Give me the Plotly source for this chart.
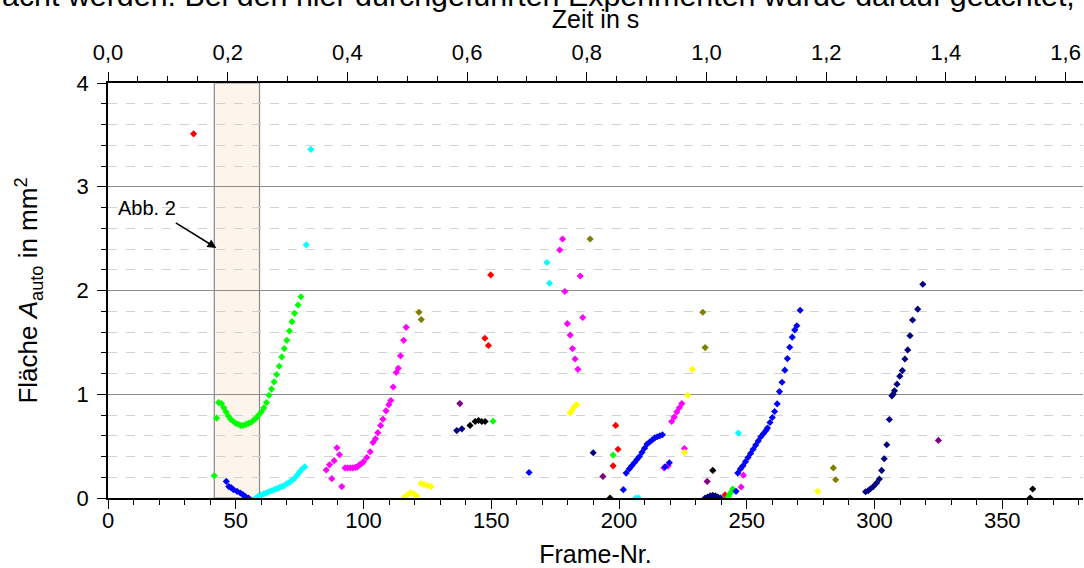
import plotly.graph_objects as go

# ---------------- data ----------------
red_x = [33.5, 147.5, 148.9, 149.8, 197.7, 198.7, 199.6, 241.5]
red_y = [3.51, 1.54, 1.47, 2.15, 0.31, 0.70, 0.47, 0.03]

cyan_x = [58, 59, 60, 61, 62, 63, 64, 65, 66, 67, 68, 69, 70, 71, 72, 73, 74, 75, 76, 77,
          77.6, 79.4, 171.8, 172.8, 206.6, 207.6, 246.7]
cyan_y = [0.0, 0.02, 0.03, 0.04, 0.05, 0.06, 0.07, 0.08, 0.09, 0.10, 0.11, 0.12, 0.14, 0.15,
          0.17, 0.19, 0.22, 0.25, 0.28, 0.30,
          2.44, 3.36, 2.27, 2.07, 0.0, 0.0, 0.625]

green_x = [41.6, 42.5, 43.3, 44.4, 45.3, 46.2, 47.1, 48.0, 49.0, 50.0, 51.0, 52.0, 53.0, 54.0,
           55.0, 56.0, 57.0, 58.0, 59.0, 60.0, 61.0, 62.0, 63.0, 64.0, 65.0, 66.0, 67.0, 68.0,
           69.0, 70.0, 71.0, 72.0, 73.0, 74.4, 75.5,
           150.7, 197.7, 242.8, 243.7, 244.5]
green_y = [0.215, 0.77, 0.92, 0.91, 0.87, 0.83, 0.79, 0.76, 0.74, 0.72, 0.71, 0.70, 0.70, 0.71,
           0.72, 0.73, 0.75, 0.77, 0.80, 0.83, 0.87, 0.92, 0.99, 1.05, 1.12, 1.19, 1.27, 1.36,
           1.44, 1.52, 1.61, 1.70, 1.78, 1.86, 1.94,
           0.74, 0.414, 0.015, 0.05, 0.087]

blue_x = [46.3, 47.3, 48.2, 49.1, 50.5, 51.8, 52.8, 53.7, 55.0,
          164.8, 201.7,
          202.8, 204, 205, 206, 207, 208, 209, 210, 211, 212, 213, 214, 215, 216, 217,
          218.0, 219.7, 245.8,
          246.5, 247.5, 248.5, 249.5, 250.5, 251.5, 252.5, 253.5, 254.5, 255.5, 256.5, 257.5,
          258.1, 259.1, 260.0, 260.9, 261.9, 262.8, 263.8, 264.9, 265.9, 266.8, 267.8, 268.8,
          269.6, 270.9]
blue_y = [0.16, 0.11, 0.10, 0.08, 0.064, 0.048, 0.032, 0.016, 0.0,
          0.246, 0.08,
          0.24, 0.28, 0.31, 0.34, 0.37, 0.40, 0.44, 0.48, 0.52, 0.54, 0.56, 0.58, 0.59, 0.60, 0.61,
          0.30, 0.34, 0.064,
          0.24, 0.28, 0.31, 0.35, 0.39, 0.43, 0.47, 0.51, 0.55, 0.59, 0.62, 0.65,
          0.674, 0.728, 0.776, 0.834, 0.908, 1.026, 1.116, 1.232, 1.344, 1.453, 1.55, 1.62,
          1.66, 1.81]

navy_x = [136.5, 138.5, 189.9,
          233.7, 234.7, 235.7, 236.7, 237.7, 238.7, 239.7,
          296.5, 297.5, 298.3, 299.5, 300.8, 301.9, 302.8, 303.8, 304.8, 305.8,
          306.8, 307.3, 307.8, 308.8, 309.9, 310.9, 311.9, 313.0, 313.9, 314.9, 316.9, 318.9]
navy_y = [0.65, 0.667, 0.436,
          0.0, 0.01, 0.02, 0.025, 0.02, 0.01, 0.0,
          0.06, 0.07, 0.087, 0.11, 0.144, 0.183, 0.266, 0.378, 0.513, 0.757,
          0.985, 1.0, 1.033, 1.097, 1.174, 1.228, 1.34, 1.427, 1.565, 1.716, 1.82, 2.06]

magenta_x = [85.4, 86.7, 87.6, 88.5, 89.6, 90.6, 91.5,
             92.8, 93.8, 94.8, 95.8, 96.8, 97.6, 98.4, 99.2, 100.0, 101.3, 102.6, 103.7,
             104.7, 105.6, 106.7, 107.6, 108.8, 109.9, 110.7, 111.6, 112.8, 113.6, 114.5,
             115.7, 116.7,
             176.8, 177.9, 178.8, 179.8, 180.9, 181.8, 182.8, 183.9, 184.8, 185.8,
             217.6, 219.2, 220.6, 221.6, 222.6, 223.6, 224.6, 225.6, 247.8, 248.7]
magenta_y = [0.27, 0.32, 0.186, 0.36, 0.484, 0.417, 0.11,
             0.29, 0.29, 0.29, 0.29, 0.295, 0.30, 0.32, 0.33, 0.35, 0.39, 0.446, 0.535,
             0.57, 0.63, 0.70, 0.76, 0.84, 0.90, 0.94, 1.07, 1.21, 1.25, 1.37,
             1.52, 1.645,
             2.39, 2.496, 1.99, 1.68, 1.57, 1.44, 1.34, 1.24, 2.14, 1.74,
             0.29, 0.31, 0.737, 0.78, 0.83, 0.87, 0.91, 0.477, 0.106, 0.22]

yellow_x = [116.0, 116.7, 118.3, 119.6, 120.9, 122.5, 123.7, 125.0, 126.4,
            180.9, 181.7, 182.5, 183.5, 225.6, 226.9, 228.7, 277.8]
yellow_y = [0.01, 0.02, 0.05, 0.04, 0.02, 0.14, 0.13, 0.12, 0.11,
            0.82, 0.85, 0.88, 0.90, 0.44, 0.99, 1.24, 0.064]

black_x = [141.7, 143.7, 145.0, 146.3, 147.6, 196.5, 236.7, 360.9, 361.9]
black_y = [0.70, 0.737, 0.747, 0.737, 0.737, 0.0, 0.266, 0.0, 0.087]

olive_x = [121.7, 122.6, 188.7, 232.8, 233.7, 283.9, 284.8]
olive_y = [1.79, 1.72, 2.496, 1.79, 1.45, 0.29, 0.176]

purple_x = [137.7, 193.7, 234.5, 325.0]
purple_y = [0.91, 0.208, 0.16, 0.555]

series = [
    ("red", red_x, red_y, "#FF0000"),
    ("cyan", cyan_x, cyan_y, "#00FFFF"),
    ("green", green_x, green_y, "#00FF00"),
    ("magenta", magenta_x, magenta_y, "#FF00FF"),
    ("yellow", yellow_x, yellow_y, "#FFFF00"),
    ("olive", olive_x, olive_y, "#808000"),
    ("purple", purple_x, purple_y, "#800080"),
    ("black", black_x, black_y, "#000000"),
    ("navy", navy_x, navy_y, "#000080"),
    ("blue", blue_x, blue_y, "#0000FF"),
]

frame_range = [0, 381.6]
fps = 234.25
time_range = [0, frame_range[1] / fps]
region_frames = [41.6, 59.3]

FONT = "Arial, 'Liberation Sans', sans-serif"

fig = go.Figure()
for name, xs, ys, col in series:
    fig.add_trace(go.Scatter(
        x=xs, y=ys, mode="markers", name=name, showlegend=False,
        marker=dict(symbol="diamond", size=5.5, color=col, line=dict(width=0)),
    ))

# helper trace so the top time axis is drawn
fig.add_trace(go.Scatter(x=time_range, y=[None, None], xaxis="x2", mode="markers",
                         showlegend=False, hoverinfo="skip"))

fig.add_shape(type="rect", xref="x", yref="y", x0=region_frames[0], x1=region_frames[1],
              y0=0, y1=4, fillcolor="#FDF4EC", line=dict(color="#8A8A8A", width=1.2),
              layer="below")

fig.update_layout(
    width=1084, height=568,
    margin=dict(l=108, r=1, t=83, b=70),
    paper_bgcolor="white", plot_bgcolor="white",
    separators=",.",
    font=dict(family=FONT, size=22, color="black"),
    xaxis=dict(
        range=frame_range, tickmode="linear", tick0=0, dtick=50,
        showgrid=False, zeroline=False, automargin=False,
        showline=True, linecolor="black", linewidth=1.5,
        ticks="outside", ticklen=9, tickwidth=1.3, tickcolor="black",
        minor=dict(dtick=10, ticks="outside", ticklen=5, tickwidth=1.1, tickcolor="black", showgrid=False),
        tickfont=dict(size=22), ticklabelstandoff=-7,
        title=dict(text="Frame-Nr.", font=dict(size=25), standoff=14),
    ),
    xaxis2=dict(
        range=time_range, overlaying="x", side="top", anchor="y",
        tickmode="linear", tick0=0, dtick=0.2, tickformat=".1f",
        showgrid=False, zeroline=False, automargin=False,
        showline=True, linecolor="black", linewidth=1.5,
        ticks="outside", ticklen=9, tickwidth=1.3, tickcolor="black",
        minor=dict(dtick=0.05, ticks="outside", ticklen=5, tickwidth=1.1, tickcolor="black", showgrid=False),
        tickfont=dict(size=22), ticklabelstandoff=3,
        title=dict(text="Zeit in s", font=dict(size=25), standoff=5),
    ),
    yaxis=dict(
        range=[0, 4], tickmode="linear", tick0=0, dtick=1,
        showgrid=True, gridcolor="#8C8C8C", gridwidth=1.4, zeroline=False, automargin=False,
        showline=True, linecolor="black", linewidth=1.5,
        ticks="outside", ticklen=9, tickwidth=1.3, tickcolor="black",
        minor=dict(dtick=0.2, ticks="outside", ticklen=5, tickwidth=1.1, tickcolor="black",
                   showgrid=True, gridcolor="#D2D2D2", griddash="dash", gridwidth=1),
        tickfont=dict(size=22), ticklabelstandoff=4,
        title=dict(text="Fläche <i>A</i><sub>auto</sub> in mm<sup>2</sup>", font=dict(size=26), standoff=31),
    ),
    annotations=[
        dict(text="Abb. 2", x=15.2, y=2.80, xref="x", yref="y", showarrow=False,
             font=dict(size=20, color="black")),
        dict(text="", x=42.4, y=2.41, xref="x", yref="y", showarrow=True,
             ax=-42, ay=-26, arrowhead=2, arrowsize=1.1, arrowwidth=1.6,
             arrowcolor="black", standoff=0),
        dict(text="acht werden. Bei den hier durchgeführten Experimenten wurde darauf geachtet,",
             x=-108 / 975, y=1.2117, xref="paper", yref="paper", xanchor="left", yanchor="middle",
             showarrow=False, font=dict(size=30.4, color="black")),
    ],
)

fig.write_html("out.html", config={"displayModeBar": False},
               post_script="document.body.style.margin='0';")
